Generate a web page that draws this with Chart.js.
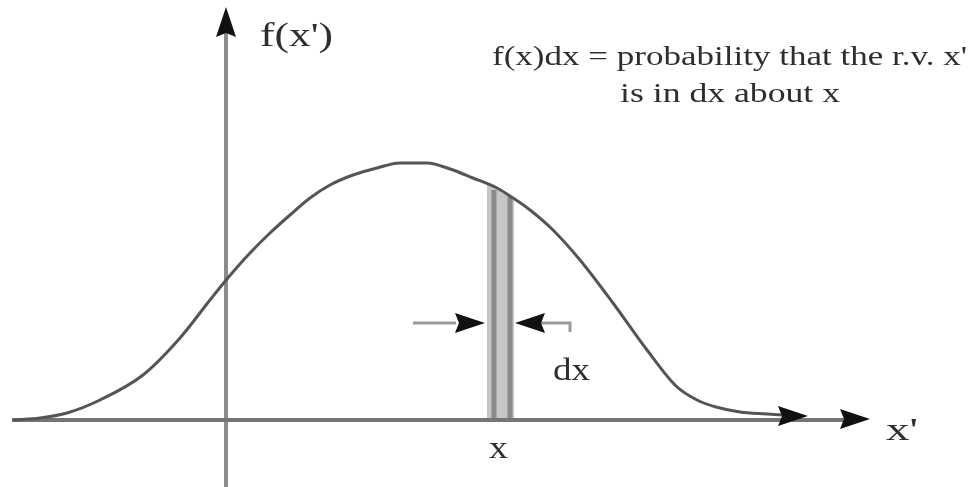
<!DOCTYPE html>
<html>
<head>
<meta charset="utf-8">
<script src="https://cdn.jsdelivr.net/npm/chart.js@4/dist/chart.umd.min.js"></script>
<style>
  html, body { margin:0; padding:0; background:#fff; }
  canvas { display:block; }
</style>
</head>
<body>
<canvas id="pdf" width="972" height="487"></canvas>
<script>
// density curve f(x') (axis origin = 0,0)
const curveX = [-2.13,-1.86,-1.59,-1.26,-0.83,-0.46,-0.16,0.01,0.24,0.44,0.64,0.84,1.04,1.27,1.51,1.74,2.01,2.24,2.47,2.71,2.87,3.04,3.27,3.54,3.87,4.21,4.50,4.71,4.90,5.14,5.41,5.70];
const curveY = [0,0.02,0.07,0.20,0.45,0.82,1.20,1.41,1.67,1.87,2.05,2.22,2.35,2.45,2.52,2.57,2.57,2.51,2.42,2.32,2.22,2.10,1.90,1.60,1.17,0.70,0.34,0.20,0.13,0.08,0.06,0.04];

// the shaded dx strip under the curve
const stripX   = [2.61, 2.88];
const stripTop = [2.36, 2.21];
const edgeX    = [2.68, 2.84];
const edgeTop  = [2.30, 2.23];

// axes and the dx marker
const axisX   = [-2.14, 6.20];
const axisY   = [-0.70, 3.90];
const dxLeft  = [1.87, 2.30];
const dxRight = [3.10, 3.44];
const dxLevel = 0.97;
const dxTick  = 0.88;

// arrow heads: centre and direction (deg)
const arrowX     = [0, 5.67, 6.29, 2.44, 3.04];
const arrowY     = [3.98, 0.04, 0.01, 0.97, 0.97];
const arrowAngle = [-90, 0, 0, 0, 180];

const labels = [
  { text:"f(x')", x:0.34, y:3.74, w:73, size:33 },
  { text:"f(x)dx = probability that the r.v. x'", x:2.66, y:3.55, w:475, size:27 },
  { text:"is in dx about x", x:3.94, y:3.18, w:220, size:27 },
  { text:"dx", x:3.27, y:0.40, w:37, size:32 },
  { text:"x", x:2.63, y:-0.38, w:19, size:32 },
  { text:"x'", x:6.60, y:-0.20, w:32, size:32 },
];

const pts = (xs, ys) => xs.map((x,i) => ({x, y: ys[i]}));

// arrow head sprite, pointing right
const head = document.createElement('canvas');
head.width = 30; head.height = 20;
{
  const c = head.getContext('2d');
  c.fillStyle = '#111';
  c.beginPath(); c.moveTo(0,0); c.lineTo(30,10); c.lineTo(0,20); c.lineTo(4,10); c.closePath(); c.fill();
}

const textPlugin = {
  id:'texts',
  afterDatasetsDraw(chart) {
    const {ctx, scales:{x, y}} = chart;
    ctx.save();
    ctx.fillStyle = '#2e2e2e';
    ctx.textBaseline = 'alphabetic';
    labels.forEach(l => {
      ctx.font = `${l.size}px "Liberation Serif", "Times New Roman", serif`;
      const mw = ctx.measureText(l.text).width;
      ctx.save();
      ctx.translate(x.getPixelForValue(l.x), y.getPixelForValue(l.y));
      ctx.scale(l.w / mw, 1);
      ctx.fillText(l.text, 0, 0);
      ctx.restore();
    });
    ctx.restore();
  }
};

const lineDs = (data, color, width, order) => ({
  data, showLine:true, borderColor:color, borderWidth:width,
  pointRadius:0, fill:false, order, clip:false
});

new Chart(document.getElementById('pdf'), {
  type:'scatter',
  data:{
    datasets:[
      { data: pts(stripX, stripTop), showLine:true, fill:'origin', backgroundColor:'#c6c6c6',
        borderWidth:0, pointRadius:0, order:9 },
      lineDs([{x:edgeX[0],y:0},{x:edgeX[0],y:edgeTop[0]}], '#8a8a8a', 5, 8),
      lineDs([{x:edgeX[1],y:0},{x:edgeX[1],y:edgeTop[1]}], '#8a8a8a', 5, 8),
      lineDs([{x:axisX[0],y:0},{x:axisX[1],y:0}], '#757575', 4, 5),
      lineDs([{x:0,y:axisY[0]},{x:0,y:axisY[1]}], '#8c8c8c', 4, 5),
      lineDs(pts(dxLeft, [dxLevel,dxLevel]), '#999', 3, 5),
      lineDs([{x:dxRight[0],y:dxLevel},{x:dxRight[1],y:dxLevel},{x:dxRight[1],y:dxTick}], '#999', 3, 5),
      Object.assign(lineDs(pts(curveX, curveY), '#555', 3, 3), { tension:0.4, cubicInterpolationMode:'monotone' }),
      { data: pts(arrowX, arrowY), showLine:false, pointStyle:head, pointRotation:arrowAngle,
        pointRadius:10, order:1, clip:false },
    ]
  },
  options:{
    responsive:false, animation:false,
    layout:{ padding:0, autoPadding:false },
    plugins:{ legend:{display:false}, tooltip:{enabled:false} },
    scales:{
      x:{ type:'linear', display:false, min:-2.26, max:7.46 },
      y:{ type:'linear', display:false, min:-0.67, max:4.20 }
    }
  },
  plugins:[textPlugin]
});
</script>
</body>
</html>
